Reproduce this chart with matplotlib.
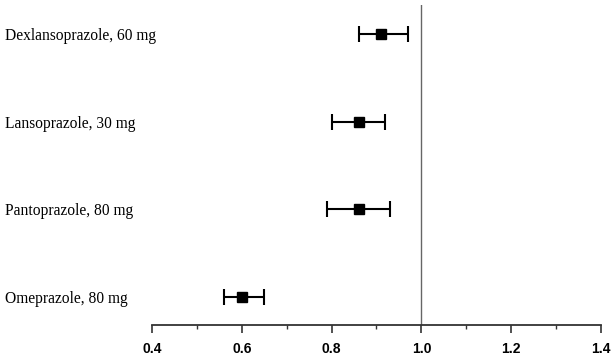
import numpy as np
import matplotlib.pyplot as plt
import matplotlib.transforms as mtransforms

drugs = ['Dexlansoprazole, 60 mg', 'Lansoprazole, 30 mg', 'Pantoprazole, 80 mg', 'Omeprazole, 80 mg']
est = [0.91, 0.86, 0.86, 0.60]
lower = [0.86, 0.80, 0.79, 0.56]
upper = [0.97, 0.92, 0.93, 0.65]

est = np.array(est)
lower = np.array(lower)
upper = np.array(upper)
ypos = np.arange(len(drugs), 0, -1)

fig = plt.figure(figsize=(6.15, 3.55), dpi=100)
ax = fig.add_axes([152/615, 1-325/355, 449/615, 320/355])

ax.axvline(1.0, color='#666666', lw=1.0, zorder=1)
ax.errorbar(est, ypos, xerr=[est-lower, upper-est], fmt='s', color='black',
            ms=7, capsize=6, capthick=1.5, elinewidth=1.5, zorder=3)

trans = mtransforms.blended_transform_factory(fig.transFigure, ax.transData)
for y, name in zip(ypos, drugs):
    ax.text(5/615, y, name, transform=trans, ha='left', va='center_baseline',
            fontsize=11.2, family='Liberation Serif')

ax.set_xlim(0.4, 1.4)
ax.set_ylim(0.68, 4.33)
ax.set_xticks(np.arange(0.4, 1.41, 0.2))
ax.set_xticks(np.arange(0.5, 1.4, 0.2), minor=True)
ax.set_xticklabels(['%.1f' % v for v in np.arange(0.4, 1.41, 0.2)],
                   fontweight='bold', family='Liberation Sans', fontsize=10)
ax.tick_params(axis='x', which='major', length=6, width=1.2, color='#333333', pad=6)
ax.tick_params(axis='x', which='minor', length=3, width=1.0, color='#333333')
ax.set_yticks([])
for s in ['left', 'right', 'top']:
    ax.spines[s].set_visible(False)
ax.spines['bottom'].set_color('#333333')
ax.spines['bottom'].set_linewidth(1.3)

plt.savefig('out.png', dpi=100)
